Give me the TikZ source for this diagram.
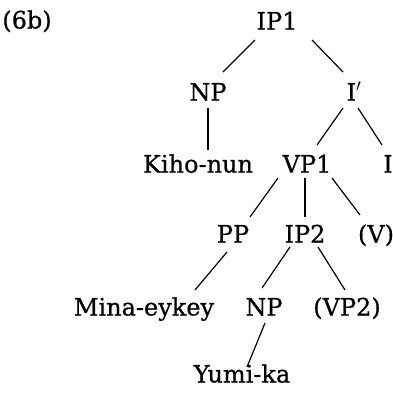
\documentclass[tikz,border=0pt]{standalone}
\usepackage{fontspec}
\setmainfont{DejaVu Serif}[FakeBold=0.6]
\tikzset{
  lab/.style={inner sep=0pt, text height=15pt, text depth=0pt, anchor=center, font=\fontsize{24}{28}\selectfont},
  edge/.style={line width=1.2pt}
}
\begin{document}
\begin{tikzpicture}[x=1pt,y=-1pt]
\useasboundingbox (0,0) rectangle (393,392);
\node[lab] (ex) at (27,21) {(6b)};
\node[lab] (ip1) at (277,22) {IP1};
\node[lab] (np1) at (208,93) {NP};
\node[lab] (ibar) at (354,93) {I$'$};
\node[lab] (kiho) at (198,165) {Kiho-nun};
\node[lab] (vp1) at (307,165) {VP1};
\node[lab] (i) at (388,165) {I};
\node[lab] (pp) at (233,235) {PP};
\node[lab] (ip2) at (305,235) {IP2};
\node[lab] (v) at (376,235) {(V)};
\node[lab] (mina) at (144,308) {Mina-eykey};
\node[lab] (np2) at (264,308) {NP};
\node[lab] (vp2) at (347,308) {(VP2)};
\node[lab] (yumi) at (242,375) {Yumi-ka};
\draw[edge] ([shift={(-22pt,-18pt)}]ip1.center) -- ([shift={(15pt,21pt)}]np1.center);
\draw[edge] ([shift={(35pt,-18pt)}]ip1.center) -- ([shift={(-11pt,21pt)}]ibar.center);
\draw[edge] ([shift={(0pt,-15pt)}]np1.center) -- ([shift={(10pt,15pt)}]kiho.center);
\draw[edge] ([shift={(-11pt,-15pt)}]ibar.center) -- ([shift={(10pt,20pt)}]vp1.center);
\draw[edge] ([shift={(4pt,-15pt)}]ibar.center) -- ([shift={(-6pt,20pt)}]i.center);
\draw[edge] ([shift={(-29pt,-13pt)}]vp1.center) -- ([shift={(17pt,18pt)}]pp.center);
\draw[edge] ([shift={(-2pt,-13pt)}]vp1.center) -- ([shift={(0pt,18pt)}]ip2.center);
\draw[edge] ([shift={(25pt,-13pt)}]vp1.center) -- ([shift={(-16pt,20pt)}]v.center);
\draw[edge] ([shift={(-6pt,-17pt)}]pp.center) -- ([shift={(51pt,18pt)}]mina.center);
\draw[edge] ([shift={(-15pt,-12pt)}]ip2.center) -- ([shift={(-2pt,20pt)}]np2.center);
\draw[edge] ([shift={(13pt,-12pt)}]ip2.center) -- ([shift={(-2pt,18pt)}]vp2.center);
\draw[edge] ([shift={(1pt,-15pt)}]np2.center) -- ([shift={(5pt,8pt)}]yumi.center);
\end{tikzpicture}
\end{document}
